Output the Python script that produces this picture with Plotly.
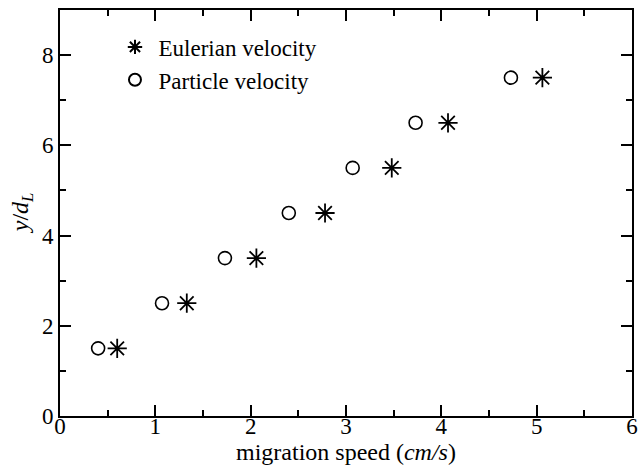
import plotly.graph_objects as go

eul_x = [0.60, 1.33, 2.06, 2.78, 3.48, 4.07, 5.06]
eul_y = [1.5, 2.5, 3.5, 4.5, 5.5, 6.5, 7.5]
par_x = [0.40, 1.07, 1.73, 2.40, 3.07, 3.73, 4.73]
par_y = [1.5, 2.5, 3.5, 4.5, 5.5, 6.5, 7.5]

FONT = "Liberation Serif"

fig = go.Figure()
fig.add_trace(go.Scatter(x=eul_x, y=eul_y, mode="markers", name="Eulerian velocity",
                         marker=dict(symbol="asterisk-open", size=16, color="black",
                                     line=dict(color="black", width=1.8))))
fig.add_trace(go.Scatter(x=par_x, y=par_y, mode="markers", name="Particle velocity",
                         marker=dict(symbol="circle-open", size=13, color="black",
                                     line=dict(color="black", width=1.6))))

axis_common = dict(showgrid=False, zeroline=False, showline=True, linecolor="black",
                   linewidth=2, mirror="ticks", ticks="inside", ticklen=11, tickwidth=2,
                   tickcolor="black", tickfont=dict(family=FONT, size=23, color="black"))

fig.update_xaxes(range=[0, 6], dtick=1, tick0=0, ticklabelstandoff=-12,
                 minor=dict(dtick=0.5, ticks="inside", ticklen=6, tickwidth=2, tickcolor="black"),
                 **axis_common)
fig.update_yaxes(range=[0, 9], dtick=2, tick0=0,
                 minor=dict(dtick=1, ticks="inside", ticklen=6, tickwidth=2, tickcolor="black"),
                 **axis_common)

fig.add_annotation(text="migration speed (<i>cm/s</i>)", xref="paper", yref="paper",
                   x=0.5, y=-0.088, xanchor="center", yanchor="middle", showarrow=False,
                   font=dict(family=FONT, size=24, color="black"))
fig.add_annotation(text="<i>y</i>/<i>d<sub>L</sub></i>", xref="paper", yref="paper",
                   x=-0.066, y=0.5, xanchor="center", yanchor="middle", showarrow=False,
                   textangle=-90, font=dict(family=FONT, size=24, color="black"))

fig.update_layout(
    width=644, height=468,
    margin=dict(l=60, r=6, t=10, b=52),
    plot_bgcolor="white", paper_bgcolor="white",
    font=dict(family=FONT, color="black"),
    showlegend=True,
    legend=dict(x=0.09, y=0.962, xanchor="left", yanchor="top", itemwidth=37,
                font=dict(family=FONT, size=23, color="black"),
                bgcolor="rgba(0,0,0,0)", tracegroupgap=0, itemsizing="constant"),
)

fig.write_html("out.html")
